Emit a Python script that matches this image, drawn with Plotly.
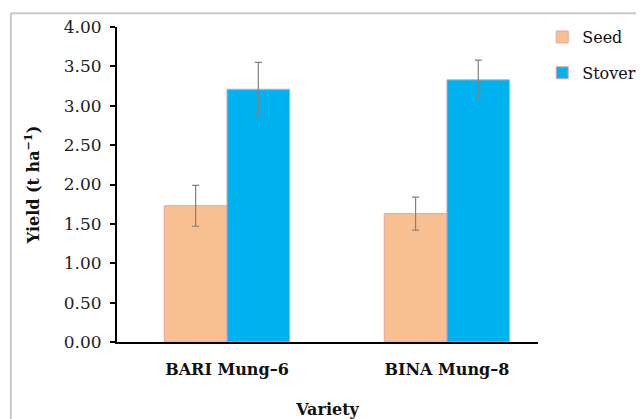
import plotly.graph_objects as go

varieties = ["BARI Mung\u20136", "BINA Mung\u20138"]
seed = [1.73, 1.63]
seed_err = [0.26, 0.21]
stover = [3.21, 3.33]
stover_err = [0.34, 0.25]
yticks = [0, 0.5, 1, 1.5, 2, 2.5, 3, 3.5, 4]
ytick_labels = ["0.00", "0.50", "1.00", "1.50", "2.00", "2.50", "3.00", "3.50", "4.00"]

FONT = "DejaVu Serif"

fig = go.Figure()
fig.add_trace(go.Bar(
    name="Seed", x=varieties, y=seed,
    marker=dict(color="#F8BF90", line=dict(color="#E8A3A3", width=1)),
    error_y=dict(type="data", array=seed_err, color="#808080", thickness=1.2, width=3.5),
    legendgroup="a",
))
fig.add_trace(go.Bar(
    name="Stover", x=varieties, y=stover,
    marker=dict(color="#00B2EF", line=dict(color="#E8A3A3", width=1)),
    error_y=dict(type="data", array=stover_err, color="#808080", thickness=1.2, width=3.5),
    legendgroup="b",
))

fig.update_layout(
    width=636, height=411,
    margin=dict(l=109, r=106, t=19, b=77, autoexpand=False),
    paper_bgcolor="white", plot_bgcolor="white",
    barmode="group", bargap=0.43, bargroupgap=0,
    font=dict(family=FONT, size=15, color="#111111"),
    showlegend=True,
    legend=dict(x=1.01, y=1.022, xanchor="left", yanchor="top",
                font=dict(family=FONT, size=16, color="#111111"),
                tracegroupgap=12, itemwidth=30, bgcolor="rgba(0,0,0,0)"),
    xaxis=dict(range=[-0.5, 1.414], showline=True, linecolor="black", linewidth=2,
               ticks="", showgrid=False, zeroline=False, ticklabelstandoff=12, automargin=False,
               tickfont=dict(family=FONT, size=16, color="#111111", weight="bold"),
               title=dict(text="<b>Variety</b>", font=dict(family=FONT, size=16, color="#111111"), standoff=27)),
    yaxis=dict(range=[0, 4], tickvals=yticks, ticktext=ytick_labels,
               showline=True, linecolor="black", linewidth=2,
               ticks="outside", ticklen=5, tickwidth=1.5, tickcolor="black",
               showgrid=False, zeroline=False, ticklabelstandoff=5, automargin=False,
               tickfont=dict(family=FONT, size=17, color="#222222"),
               title=dict(text="<b>Yield (t ha<sup>\u22121</sup>)</b>", font=dict(family=FONT, size=16, color="#111111"), standoff=20)),
    shapes=[
        dict(type="line", xref="paper", yref="paper", x0=-0.252, x1=1.3, y0=1.044, y1=1.044,
             line=dict(color="#C8C8C8", width=2)),
        dict(type="line", xref="paper", yref="paper", x0=-0.252, x1=-0.252, y0=1.044, y1=-0.3,
             line=dict(color="#C8C8C8", width=2)),
    ],
)

fig.write_html("out.html")
